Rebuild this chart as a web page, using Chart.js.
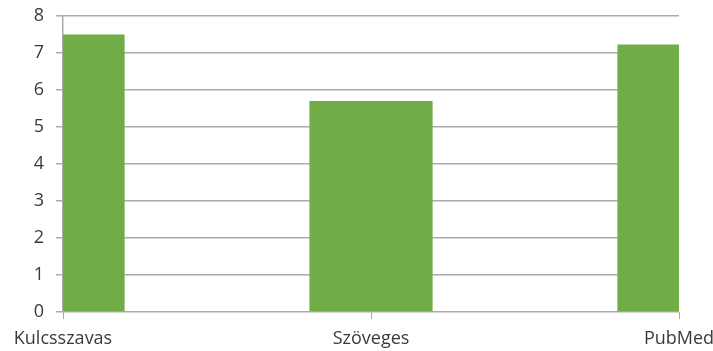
<!DOCTYPE html>
<html>
<head>
<meta charset="utf-8">
<script src="https://cdn.jsdelivr.net/npm/chart.js@4/dist/chart.umd.min.js"></script>
<style>
  html, body { margin: 0; padding: 0; background: #fff; }
  #wrap { width: 713px; height: 351px; }
</style>
</head>
<body>
<div id="wrap"><canvas id="barChart"></canvas></div>
<script>
// Data
const categories = ['Kulcsszavas', 'Szöveges', 'PubMed'];
const values = [7.5, 5.7, 7.23];
const yTicks = [0, 1, 2, 3, 4, 5, 6, 7, 8];

const gridColor = '#ababab';
const textColor = '#3a3a3a';
const fontFamily = "'Open Sans', 'Liberation Sans', sans-serif";

const ctx = document.getElementById('barChart').getContext('2d');
const barChart = new Chart(ctx, {
    type: 'bar',
    data: {
        labels: categories,
        datasets: [{
            data: values,
            backgroundColor: '#70ad47',
            borderWidth: 0,
            barPercentage: 0.4,
            categoryPercentage: 1
        }]
    },
    options: {
        responsive: true,
        maintainAspectRatio: false,
        animation: false,
        layout: {
            padding: { top: 16, right: 34, left: 0, bottom: 0 }
        },
        plugins: {
            legend: { display: false },
            tooltip: { enabled: false }
        },
        scales: {
            x: {
                offset: false,
                grid: {
                    offset: false,
                    drawOnChartArea: false,
                    drawTicks: true,
                    tickLength: 7,
                    color: gridColor
                },
                border: { display: false },
                ticks: {
                    color: textColor,
                    font: { family: fontFamily, size: 18 },
                    padding: 9,
                    autoSkip: false,
                    maxRotation: 0
                },
                afterFit: (scale) => {
                    scale.height = 39;
                    // edge labels may hang past the plot area
                    scale.paddingLeft = 0;
                    scale.paddingRight = 0;
                }
            },
            y: {
                min: 0,
                max: 8,
                afterBuildTicks: (scale) => {
                    scale.ticks = yTicks.map(v => ({ value: v }));
                },
                grid: {
                    color: gridColor,
                    tickLength: 7,
                    lineWidth: 1.5
                },
                border: { display: true, color: gridColor, width: 1.5 },
                ticks: {
                    color: textColor,
                    font: { family: fontFamily, size: 18 },
                    padding: 12
                },
                afterFit: (scale) => {
                    scale.width = 63;
                    scale.paddingTop = 0;
                    scale.paddingBottom = 0;
                }
            }
        }
    }
});
</script>
</body>
</html>
